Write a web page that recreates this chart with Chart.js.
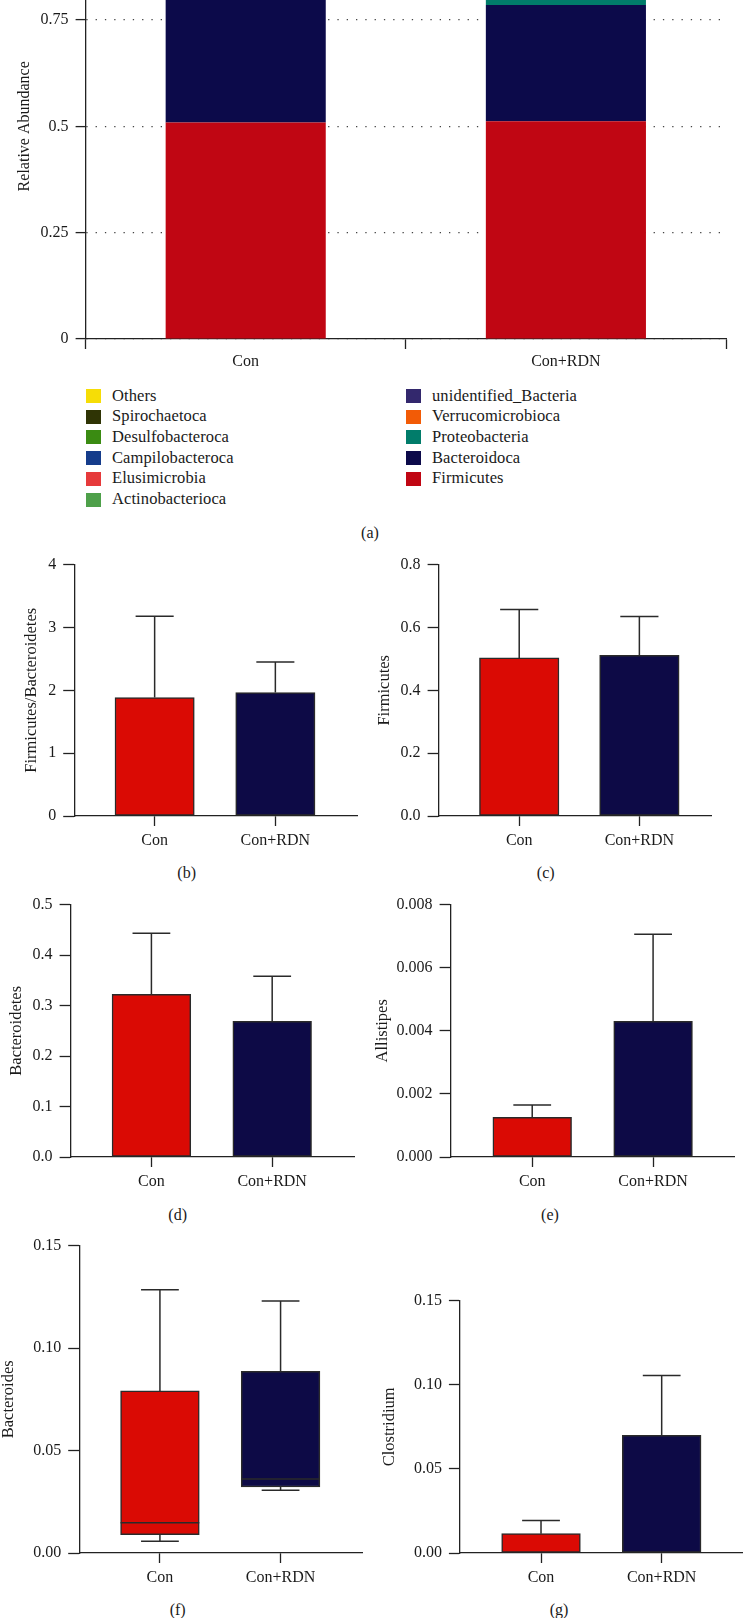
<!DOCTYPE html>
<html><head><meta charset="utf-8">
<script src="https://cdn.jsdelivr.net/npm/chart.js@4"></script>
<style>
html,body{margin:0;padding:0;background:#fff;}
body{width:743px;height:1618px;position:relative;overflow:hidden;font-family:'Liberation Serif','Times New Roman',serif;color:#1a1a1a;}
canvas{position:absolute;}
.cap{position:absolute;font-size:16px;transform:translate(-50%,-50%);white-space:nowrap;}
.lg{position:absolute;font-size:16.5px;letter-spacing:0.1px;white-space:nowrap;line-height:20px;}
.sw{position:absolute;width:15px;height:14px;}
</style></head><body>
<script>
// ---------- DATA ----------
const categories = ['Con', 'Con+RDN'];

// (a) relative abundance, stacked bottom -> top
const Firmicutes            = [0.509, 0.512];
const Bacteroidoca          = [0.322, 0.273];
const Proteobacteria        = [0.042, 0.085];
const Verrucomicrobioca     = [0.028, 0.030];
const unidentified_Bacteria = [0.025, 0.022];
const Actinobacterioca      = [0.018, 0.020];
const Elusimicrobia         = [0.012, 0.010];
const Campilobacteroca      = [0.010, 0.008];
const Desulfobacteroca      = [0.009, 0.012];
const Spirochaetoca         = [0.006, 0.008];
const Others                = [0.019, 0.020];
const aTickLabels = ['0', '0.25', '0.5', '0.75', '1'];
const legendLeft  = ['Others', 'Spirochaetoca', 'Desulfobacteroca', 'Campilobacteroca', 'Elusimicrobia', 'Actinobacterioca'];
const legendRight = ['unidentified_Bacteria', 'Verrucomicrobioca', 'Proteobacteria', 'Bacteroidoca', 'Firmicutes'];

// (b) Firmicutes/Bacteroidetes
const bMean = [1.885, 1.964];
const bUpper = [3.18, 2.45];
const bTickLabels = ['0', '1', '2', '3', '4'];
// (c) Firmicutes
const cMean = [0.503, 0.511];
const cUpper = [0.657, 0.635];
const cTickLabels = ['0.0', '0.2', '0.4', '0.6', '0.8'];
// (d) Bacteroidetes
const dMean = [0.322, 0.269];
const dUpper = [0.443, 0.358];
const dTickLabels = ['0.0', '0.1', '0.2', '0.3', '0.4', '0.5'];
// (e) Allistipes
const eMean = [0.00126, 0.0043];
const eUpper = [0.00165, 0.00706];
const eTickLabels = ['0.000', '0.002', '0.004', '0.006', '0.008'];
// (f) Bacteroides (box plot)
const fMin = [0.0057, 0.0306];
const fQ1 = [0.0089, 0.0322];
const fMedian = [0.0148, 0.0361];
const fQ3 = [0.0791, 0.0887];
const fMax = [0.1285, 0.123];
const fTickLabels = ['0.00', '0.05', '0.10', '0.15'];
// (g) Clostridium
const gMean = [0.0115, 0.0699];
const gUpper = [0.0193, 0.1055];
const gTickLabels = ['0.00', '0.05', '0.10', '0.15'];

// ---------- STYLE ----------
const phylumSeries = {Firmicutes, Bacteroidoca, Proteobacteria, Verrucomicrobioca, unidentified_Bacteria,
  Actinobacterioca, Elusimicrobia, Campilobacteroca, Desulfobacteroca, Spirochaetoca, Others};
const stackOrder = ['Firmicutes', 'Bacteroidoca', 'Proteobacteria', 'Verrucomicrobioca', 'unidentified_Bacteria',
  'Actinobacterioca', 'Elusimicrobia', 'Campilobacteroca', 'Desulfobacteroca', 'Spirochaetoca', 'Others'];
const phylumColors = {
  Others: '#F6DD06', Spirochaetoca: '#2F3405', Desulfobacteroca: '#3A8B12', Campilobacteroca: '#153C8B',
  Elusimicrobia: '#E63A3B', Actinobacterioca: '#4EA04A', unidentified_Bacteria: '#33286D',
  Verrucomicrobioca: '#F25B06', Proteobacteria: '#017C6A', Bacteroidoca: '#0C0A4A', Firmicutes: '#C00613'
};
const RED = '#DA0A04', NAVY = '#0D0A46', INK = '#1a1a1a', AX = '#222';

Chart.defaults.font.family = "'Liberation Serif', 'Times New Roman', serif";
Chart.defaults.font.size = 16;
Chart.defaults.color = INK;
Chart.defaults.animation = false;

function addCanvas(left, top, w, h) {
  const c = document.createElement('canvas');
  c.width = Math.round(w); c.height = Math.round(h);
  c.style.left = left + 'px'; c.style.top = top + 'px';
  c.style.width = Math.round(w) + 'px'; c.style.height = Math.round(h) + 'px';
  document.body.appendChild(c);
  return c;
}
function addText(cls, txt, x, y) {
  const d = document.createElement('div');
  d.className = cls; d.textContent = txt;
  d.style.left = x + 'px'; d.style.top = y + 'px';
  document.body.appendChild(d);
  return d;
}

// ---------- PANEL (a) ----------
(function () {
  const L = 86, R = 726, top = -88.2, zero = 338.7, titleX = 25;
  const padTop = 15, xH = 45, padR = 10;
  const cl = titleX - 9.6;
  const cv = addCanvas(cl, top - padTop, R - cl + padR, padTop + (zero - top) + xH);
  const tv = aTickLabels.map(Number);
  new Chart(cv, {
    type: 'bar',
    data: {
      labels: categories,
      datasets: stackOrder.map(n => ({
        label: n, data: phylumSeries[n], backgroundColor: phylumColors[n], borderWidth: 0,
        barPercentage: 0.5, categoryPercentage: 1
      }))
    },
    options: {
      responsive: false, animation: false, devicePixelRatio: 1,
      layout: {padding: {top: padTop, right: padR, left: 0, bottom: 0}},
      plugins: {legend: {display: false}, tooltip: {enabled: false}},
      scales: {
        x: {
          stacked: true, offset: true,
          afterFit(s) { s.height = xH; },
          grid: {display: true, offset: true, drawOnChartArea: false, tickLength: 10, tickColor: AX, tickWidth: 1.3},
          border: {display: true, color: AX, width: 1.3},
          ticks: {padding: 3, color: INK, font: {size: 16}, maxRotation: 0}
        },
        y: {
          stacked: true, min: 0, max: 1,
          afterBuildTicks(s) { s.ticks = tv.map(v => ({value: v})); },
          afterFit(s) { s.width = L - cl; },
          grid: {display: true, drawOnChartArea: true, color: '#444', lineWidth: 1.2, tickLength: 10, tickColor: AX, tickWidth: 1.3},
          border: {display: true, color: AX, width: 1.3, dash: [1.3, 8]},
          ticks: {callback: (v, i) => aTickLabels[i], padding: 7, color: INK, font: {size: 16}},
          title: {display: true, text: 'Relative Abundance', padding: 0, color: INK, font: {size: 16}}
        }
      }
    }
  });
  // legend (HTML text)
  const y0 = 396, step = 20.7;
  legendLeft.forEach((n, i) => {
    const cy = y0 + i * step;
    const s = addText('sw', '', 86, cy - 7); s.style.background = phylumColors[n];
    addText('lg', n, 112, cy - 10.5);
  });
  legendRight.forEach((n, i) => {
    const cy = y0 + i * step;
    const s = addText('sw', '', 406, cy - 7); s.style.background = phylumColors[n];
    addText('lg', n, 432, cy - 10.5);
  });
  addText('cap', '(a)', 370, 533);
})();

// ---------- PANELS (b)-(g) ----------
function makePlugin(spec) {
  return {
    id: 'whiskers',
    afterDatasetsDraw(chart) {
      const ctx = chart.ctx, xs = chart.scales.x, ys = chart.scales.y;
      ctx.save();
      ctx.strokeStyle = '#2a2a2a'; ctx.lineWidth = 1.5;
      const cap = spec.cap;
      const seg = (x, yv0, yv1) => {
        const y0 = ys.getPixelForValue(yv0), y1 = ys.getPixelForValue(yv1);
        ctx.beginPath();
        ctx.moveTo(x, y0); ctx.lineTo(x, y1);
        ctx.moveTo(x - cap / 2, y1); ctx.lineTo(x + cap / 2, y1);
        ctx.stroke();
      };
      categories.forEach((c, i) => {
        const x = xs.getPixelForValue(i);
        if (spec.box) {
          seg(x, spec.box.q3[i], spec.box.max[i]);
          seg(x, spec.box.q1[i], spec.box.min[i]);
          const ym = ys.getPixelForValue(spec.box.med[i]);
          ctx.beginPath();
          ctx.moveTo(x - spec.bw / 2, ym); ctx.lineTo(x + spec.bw / 2, ym);
          ctx.stroke();
        } else {
          seg(x, spec.mean[i], spec.upper[i]);
        }
      });
      ctx.restore();
    }
  };
}

function panel(p, spec) {
  const padTop = 15, xH = 45, padR = 6;
  const titleSize = 16.5;
  const cl = p.titleX - titleSize * 0.6;
  const cv = addCanvas(cl, p.top - padTop, p.R - cl + padR, padTop + (p.zero - p.top) + xH);
  const span = p.c1 - p.c0;
  const xmin = (p.L - p.c0) / span, xmax = (p.R - p.c0) / span;
  const tv = spec.ticks.map(Number);
  const data = spec.box
    ? categories.map((c, i) => ({x: i, y: [spec.box.q1[i], spec.box.q3[i]]}))
    : categories.map((c, i) => ({x: i, y: spec.mean[i]}));
  spec.bw = p.bw; spec.cap = p.bw * 0.48;
  new Chart(cv, {
    type: 'bar',
    data: {datasets: [{data, backgroundColor: [RED, NAVY], borderColor: '#2a2a2a', borderWidth: 1.5,
      borderSkipped: false, barThickness: p.bw}]},
    options: {
      responsive: false, animation: false, devicePixelRatio: 1,
      layout: {padding: {top: padTop, right: padR, left: 0, bottom: 0}},
      plugins: {legend: {display: false}, tooltip: {enabled: false}},
      scales: {
        x: {
          type: 'linear', min: xmin, max: xmax, offset: false,
          afterBuildTicks(s) { s.ticks = categories.map((c, i) => ({value: i})); },
          afterFit(s) { s.height = xH; },
          grid: {display: true, offset: false, drawOnChartArea: false, tickLength: 10, tickColor: AX, tickWidth: 1.3},
          border: {display: true, color: AX, width: 1.3},
          ticks: {callback: (v, i) => categories[i], padding: 5, color: INK, font: {size: 16}, maxRotation: 0, autoSkip: false}
        },
        y: {
          type: 'linear', min: 0, max: tv[tv.length - 1],
          afterBuildTicks(s) { s.ticks = tv.map(v => ({value: v})); },
          afterFit(s) { s.width = p.L - cl; },
          grid: {display: true, drawOnChartArea: false, tickLength: 11, tickColor: AX, tickWidth: 1.3},
          border: {display: true, color: AX, width: 1.3},
          ticks: {callback: (v, i) => spec.ticks[i], padding: 7, color: INK, font: {size: 16}},
          title: {display: true, text: spec.title, padding: 0, color: INK, font: {size: titleSize}}
        }
      }
    },
    plugins: [makePlugin(spec)]
  });
  addText('cap', spec.caption, p.capX, p.capY);
}

panel({L: 74, R: 357, top: 562.7, zero: 816, c0: 154.5, c1: 275.3, bw: 79.3, titleX: 31.7, capX: 186.7, capY: 873.3},
  {title: 'Firmicutes/Bacteroidetes', mean: bMean, upper: bUpper, ticks: bTickLabels, caption: '(b)'});
panel({L: 439, R: 711.7, top: 562.7, zero: 816, c0: 519.7, c1: 640, bw: 79.5, titleX: 385.3, capX: 545.7, capY: 873.3},
  {title: 'Firmicutes', mean: cMean, upper: cUpper, ticks: cTickLabels, caption: '(c)'});
panel({L: 71, R: 354, top: 903.3, zero: 1157.3, c0: 151.7, c1: 272.3, bw: 78.7, titleX: 17.3, capX: 177.7, capY: 1215},
  {title: 'Bacteroidetes', mean: dMean, upper: dUpper, ticks: dTickLabels, caption: '(d)'});
panel({L: 451, R: 734, top: 903.3, zero: 1157.3, c0: 532.5, c1: 653.2, bw: 78.7, titleX: 383.3, capX: 550, capY: 1215},
  {title: 'Allistipes', mean: eMean, upper: eUpper, ticks: eTickLabels, caption: '(e)'});
panel({L: 79, R: 361.7, top: 1244, zero: 1552.7, c0: 159.7, c1: 280.3, bw: 78.7, titleX: 8.7, capX: 177.7, capY: 1610},
  {title: 'Bacteroides', box: {min: fMin, q1: fQ1, med: fMedian, q3: fQ3, max: fMax}, ticks: fTickLabels, caption: '(f)'});
panel({L: 460, R: 742.7, top: 1298.7, zero: 1552.7, c0: 541, c1: 661.5, bw: 78.7, titleX: 390, capX: 559, capY: 1610},
  {title: 'Clostridium', mean: gMean, upper: gUpper, ticks: gTickLabels, caption: '(g)'});
</script>
</body></html>
